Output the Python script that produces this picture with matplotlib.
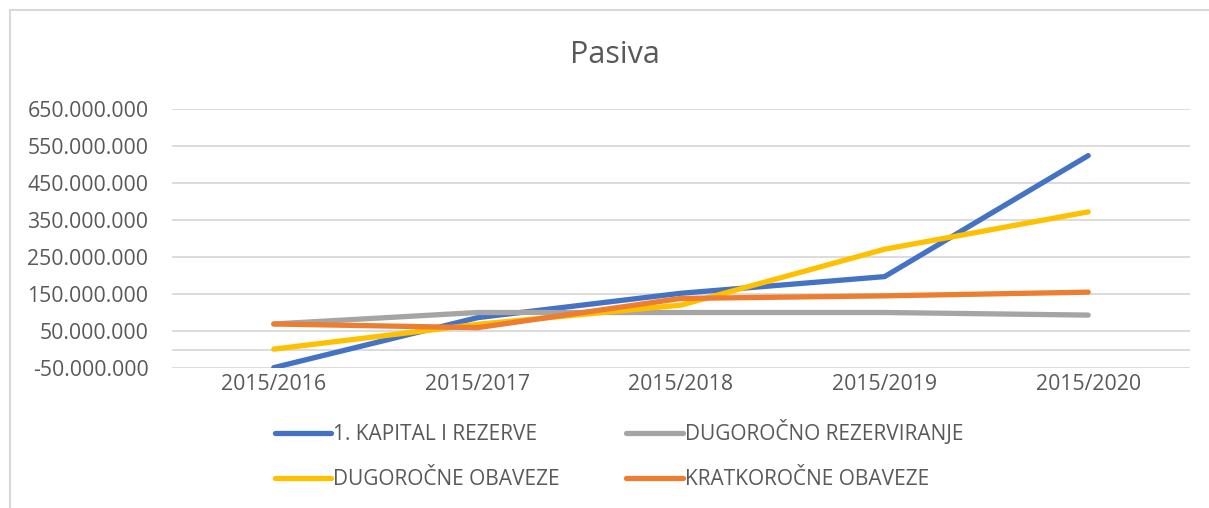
import matplotlib.pyplot as plt
from matplotlib.lines import Line2D
from matplotlib.ticker import FuncFormatter

plt.rcParams['font.family'] = ['Open Sans', 'DejaVu Sans']

years = ['2015/2016', '2015/2017', '2015/2018', '2015/2019', '2015/2020']
kapital = [-49e6, 86e6, 152e6, 197e6, 524e6]
dug_rezerviranje = [69e6, 100e6, 100e6, 100e6, 93e6]
dug_obaveze = [1e6, 68e6, 120e6, 271e6, 372e6]
kratk_obaveze = [69e6, 59e6, 138e6, 145e6, 155e6]

series = [
    ('1. KAPITAL I REZERVE', kapital, '#4472C4'),
    ('DUGOROČNO REZERVIRANJE', dug_rezerviranje, '#A5A5A5'),
    ('DUGOROČNE OBAVEZE', dug_obaveze, '#FFC000'),
    ('KRATKOROČNE OBAVEZE', kratk_obaveze, '#ED7D31'),
]

text_col = '#595959'
grid_col = '#D9D9D9'

fig = plt.figure(figsize=(12.09, 5.08), dpi=100)
ax = fig.add_axes([172 / 1209, 1 - 368 / 508, (1190 - 172) / 1209, (368 - 109) / 508])

x = range(len(years))
lines = {}
for name, vals, col in series:
    ln, = ax.plot(x, vals, color=col, lw=3.8, solid_capstyle='round', label=name)
    lines[name] = ln

ax.set_xlim(-0.5, len(years) - 0.5)
ax.set_ylim(-50e6, 650e6)
yt = [-50e6 + 100e6 * i for i in range(8)]
ax.set_yticks(yt)
for v in yt + [0]:
    ax.axhline(v, color=grid_col, lw=1.3, zorder=0)
ax.yaxis.set_major_formatter(FuncFormatter(lambda v, p: f'{int(round(v)):,}'.replace(',', '.')))
ax.set_xticks(list(x))
ax.set_xticklabels(years)
ax.tick_params(length=0, labelsize=15.3, colors=text_col)
ax.tick_params(axis='y', pad=17)
ax.tick_params(axis='x', pad=4)
for s in ax.spines.values():
    s.set_visible(False)

fig.text(615 / 1209, 1 - 55 / 508, 'Pasiva', ha='center', va='center', fontsize=22, color=text_col)

order = ['1. KAPITAL I REZERVE', 'DUGOROČNE OBAVEZE', 'DUGOROČNO REZERVIRANJE', 'KRATKOROČNE OBAVEZE']
leg = fig.legend([lines[n] for n in order], order, ncol=2, loc='center',
                 bbox_to_anchor=(619 / 1209, 1 - 455 / 508), frameon=False,
                 fontsize=15, handlelength=2.7, handletextpad=0.1, columnspacing=3.2,
                 labelspacing=1.15)
for t in leg.get_texts():
    t.set_color(text_col)

# chart border
fig.add_artist(Line2D([10 / 1209, 10 / 1209], [0, 1 - 10 / 508], color=grid_col, lw=1.5))
fig.add_artist(Line2D([10 / 1209, 1], [1 - 10 / 508, 1 - 10 / 508], color=grid_col, lw=1.5))

fig.savefig('out.png', dpi=100)
